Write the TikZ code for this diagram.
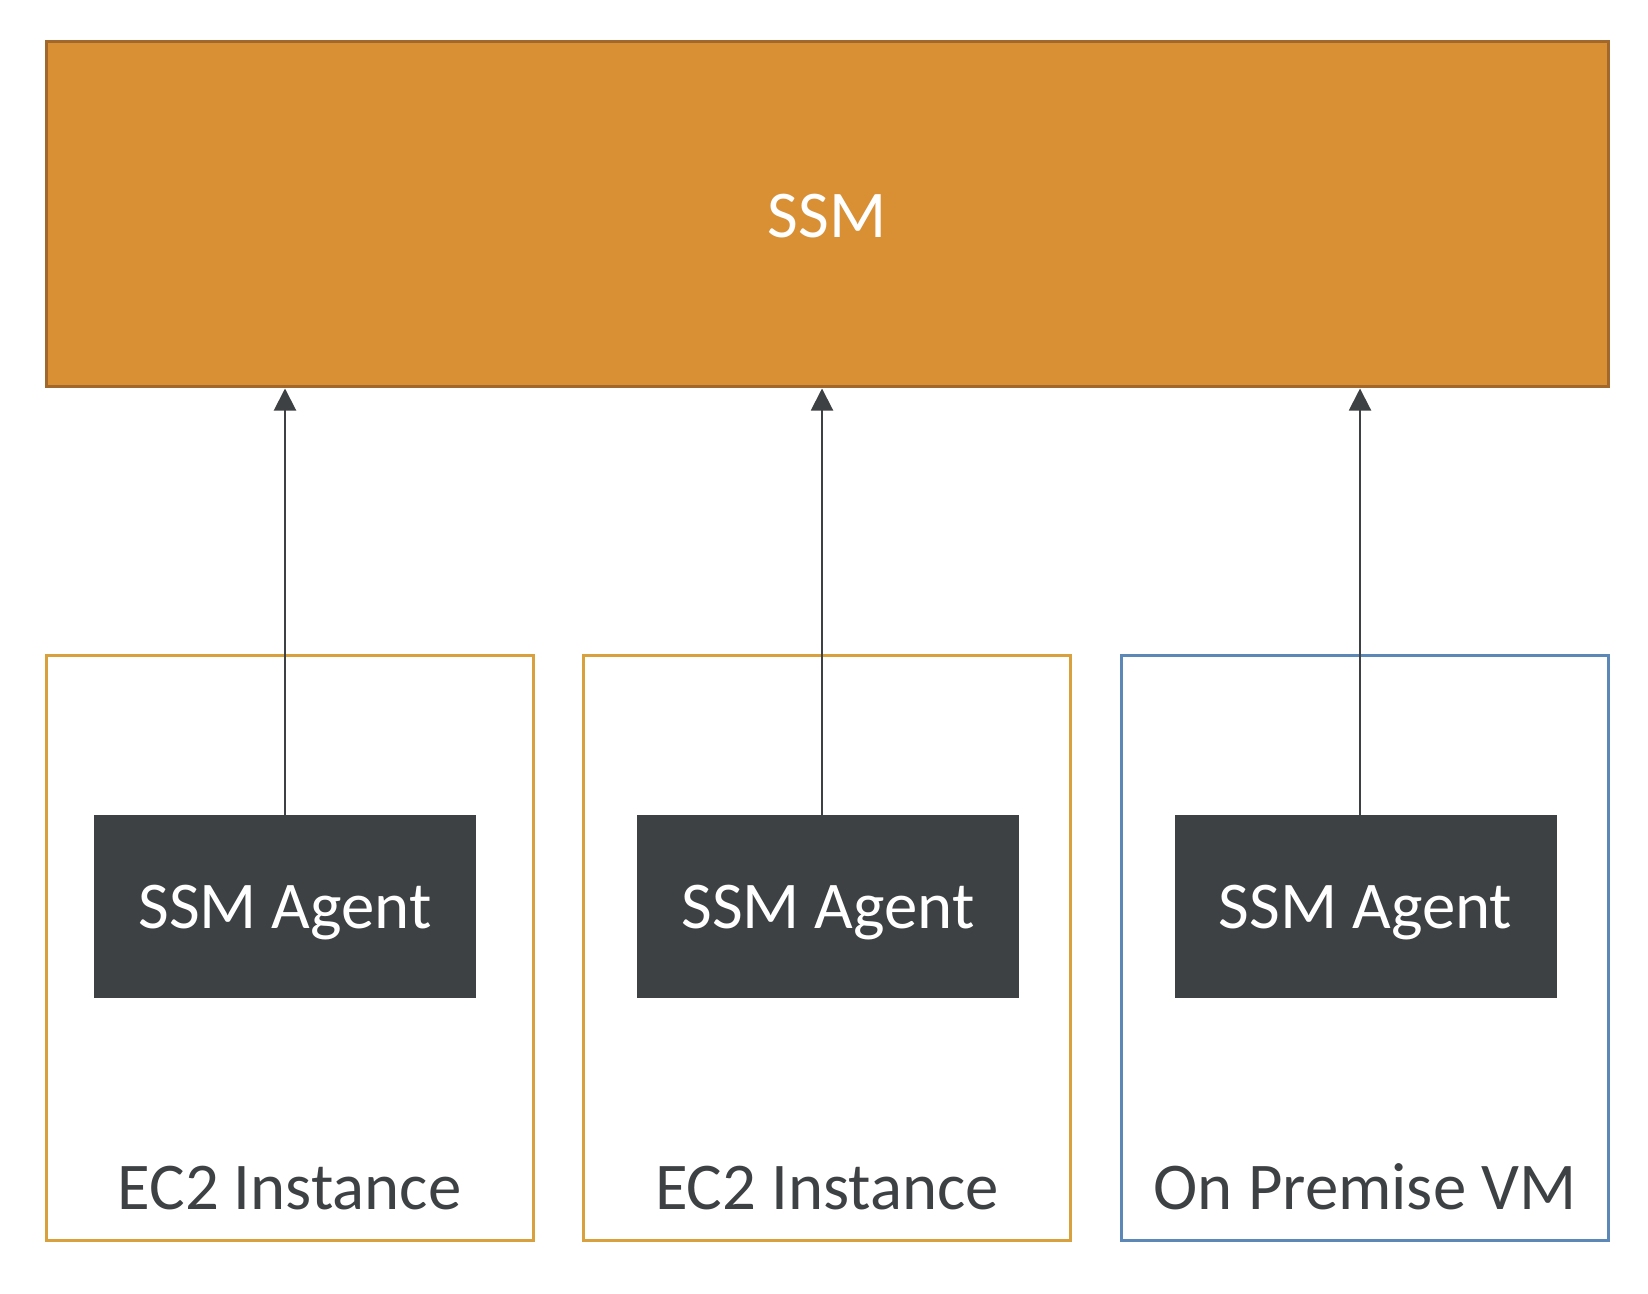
\documentclass[tikz,border=0pt]{standalone}
\usepackage{fontspec}
\setmainfont{Carlito}
\usetikzlibrary{arrows.meta}
\definecolor{ssmfill}{HTML}{D99035}
\definecolor{ssmedge}{HTML}{A2672A}
\definecolor{ec2edge}{HTML}{D9A03E}
\definecolor{vmedge}{HTML}{5B88B6}
\definecolor{agentfill}{HTML}{3E4143}
\definecolor{darktext}{HTML}{3E4143}
\tikzset{
  bigfont/.style={font=\fontsize{33.4}{40}\selectfont},
  ssmbox/.style={draw=ssmedge, fill=ssmfill, line width=1.5pt, minimum width=781pt, minimum height=172.5pt, inner sep=0pt, text=white, bigfont},
  hostbox/.style={draw=#1, line width=1.5pt, minimum width=243.5pt, minimum height=292.5pt, inner sep=0pt},
  agentbox/.style={fill=agentfill, minimum width=191pt, minimum height=91.5pt, inner sep=0pt, text=white, text depth=0pt, bigfont},
  hostlabel/.style={anchor=base, text=darktext, bigfont, inner sep=0pt},
  arr/.style={draw=darktext, line width=1pt, -{Triangle[length=11pt,width=11pt]}}
}
\begin{document}
\begin{tikzpicture}[x=0.5pt,y=-0.5pt]
\useasboundingbox (0,0) rectangle (1648,1294);
\node[ssmbox] (ssm) at (827,214.5) {};
\node[text=white, bigfont, inner sep=0pt] (ssmlabel) at (827,216) {SSM};
\node[hostbox=ec2edge] (h1) at (289.5,947.5) {};
\node[hostbox=ec2edge] (h2) at (827,947.5) {};
\node[hostbox=vmedge] (h3) at (1365,947.5) {};
\node[agentbox] (a1) at (285,906.5) {SSM Agent};
\node[agentbox] (a2) at (828,906.5) {SSM Agent};
\node[agentbox] (a3) at (1365.5,906.5) {SSM Agent};
\node[hostlabel] (l1) at (289.5,1209) {EC2 Instance};
\node[hostlabel] (l2) at (827,1209) {EC2 Instance};
\node[hostlabel] (l3) at (1365,1209) {On Premise VM};
\draw[arr] (a1.north) -- (a1.north |- ssm.south);
\draw[arr] ([xshift=-3pt]a2.north) -- ([xshift=-3pt]a2.north |- ssm.south);
\draw[arr] ([xshift=-2.75pt]a3.north) -- ([xshift=-2.75pt]a3.north |- ssm.south);
\end{tikzpicture}
\end{document}
